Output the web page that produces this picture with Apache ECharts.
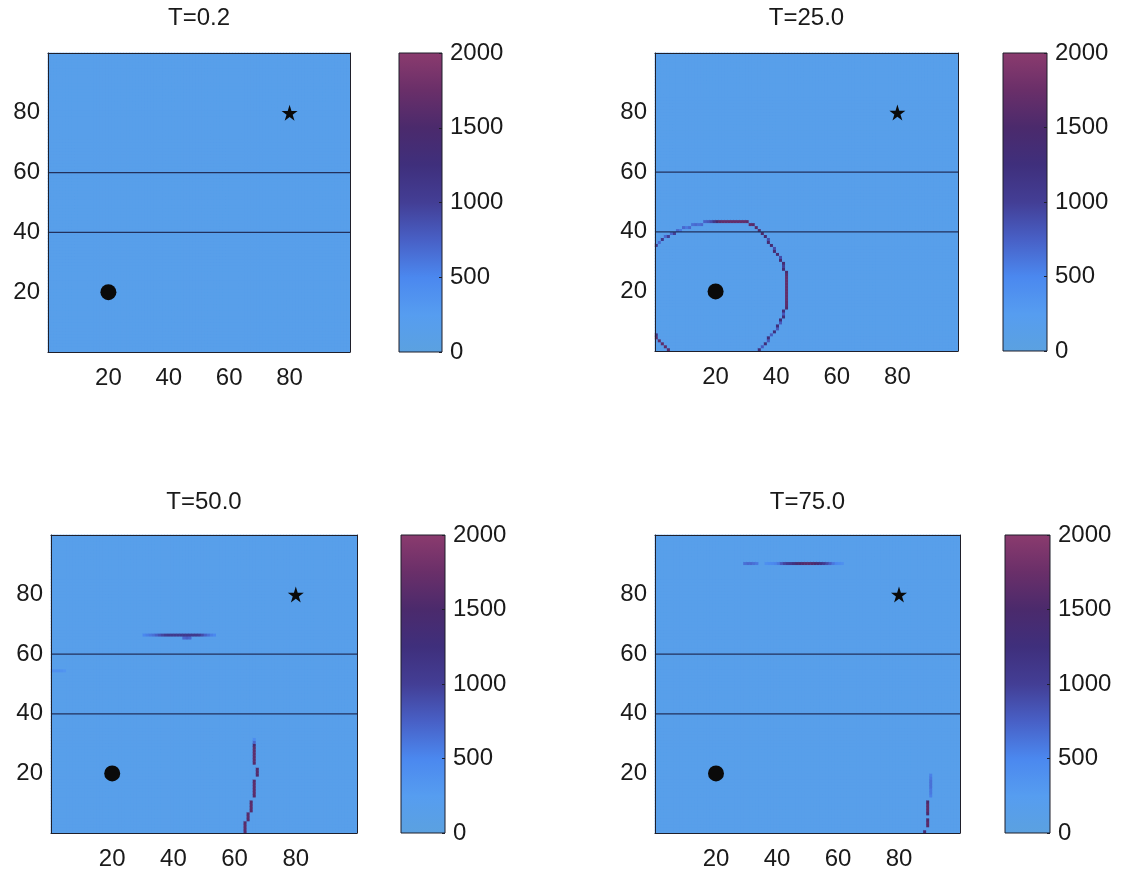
<!DOCTYPE html>
<html>
<head>
<meta charset="utf-8">
<title>Wavefield snapshots</title>
<script src="https://cdn.jsdelivr.net/npm/echarts@6/dist/echarts.min.js"></script>
<style>
  html, body { margin: 0; padding: 0; background: #ffffff; }
  #chart { width: 1125px; height: 876px; }
</style>
</head>
<body>
<div id="chart"></div>
<script>
// ---- data ---------------------------------------------------------------
const FIELD_SIZE = 100;          // cells per side of the model grid
const BACKGROUND_LEVEL = 150;    // amplitude of the quiet medium
const panelTitles = ['T=0.2', 'T=25.0', 'T=50.0', 'T=75.0'];
const colorLevels = [0, 250, 500, 750, 1000, 1250, 1500, 1750, 2000];
const colorRamp = ['#5ba1e0', '#569df0', '#4b88ef', '#4860c6', '#433e95', '#3f2f7c', '#4b2a6c', '#6a2f69', '#8b3b6e'];
const interfaceDepths = [40, 60];
const sourcePoint = [20, 20];
const receiverPoint = [80, 80];

// wavefront cells: [x cell, y cell, amplitude]
const frontT02 = [];

const frontT25 = [
  // lower-left corner
  [0, 5, 1200], [0, 4, 1650], [1, 3, 1650], [2, 2, 1650], [3, 1, 1650], [4, 0, 1600],
  // left edge, dotted
  [0, 35, 1100], [1, 36, 700], [2, 37, 1100], [3, 38, 700], [4, 38, 1000], [5, 39, 700], [6, 39, 1000],
  // upper-left, faint
  [7, 40, 700], [8, 40, 600], [9, 41, 700], [10, 41, 600], [11, 41, 700], [12, 42, 650], [13, 42, 700],
  [14, 42, 650], [15, 42, 700], [16, 43, 750], [17, 43, 800], [18, 43, 900], [19, 43, 1100],
  // top
  [20, 43, 1500], [21, 43, 1650], [22, 43, 1700], [23, 43, 1700], [24, 43, 1700], [25, 43, 1700],
  [26, 43, 1700], [27, 43, 1700], [28, 43, 1700], [29, 43, 1700], [30, 43, 1650],
  // upper-right bend
  [31, 42, 1650], [32, 42, 1600], [33, 41, 1600], [34, 40, 1550], [35, 39, 1500],
  // upper-right diagonal
  [36, 38, 1400], [37, 37, 900], [37, 36, 1400], [38, 35, 1400], [39, 34, 900], [39, 33, 1400],
  [40, 32, 1400], [41, 31, 900], [41, 30, 1400], [42, 29, 1400], [42, 28, 1000], [42, 27, 1400],
  // right side
  [43, 26, 1500], [43, 25, 1650], [43, 24, 1700], [43, 23, 1700], [43, 22, 1700], [43, 21, 1700],
  [43, 20, 1700], [43, 19, 1700], [43, 18, 1700], [43, 17, 1700], [43, 16, 1650], [43, 15, 1650], [43, 14, 1550],
  // lower-right, dotted
  [42, 13, 1300], [42, 12, 800], [42, 11, 1300], [41, 10, 1300], [41, 9, 800], [40, 8, 1300], [40, 7, 800],
  [39, 6, 1300], [38, 5, 800], [37, 4, 1300], [37, 3, 800], [36, 2, 1300], [35, 1, 800], [34, 0, 1300]
];

const frontT50 = [
  // refracted front above the upper interface
  [30, 66, 500], [31, 66, 550], [32, 66, 600], [33, 66, 650], [34, 66, 750], [35, 66, 850], [36, 66, 950],
  [37, 66, 1050], [38, 66, 1100], [39, 66, 1100], [40, 66, 1100], [41, 66, 1100], [42, 66, 1100],
  [43, 66, 1100], [44, 66, 1100], [45, 66, 1100], [46, 66, 1100], [47, 66, 1100], [48, 66, 1050],
  [49, 66, 900], [50, 66, 750], [51, 66, 650], [52, 66, 550], [53, 66, 500],
  [43, 65, 700], [44, 65, 750], [45, 65, 700],
  // weak energy in the middle layer
  [0, 54, 400], [1, 54, 400], [2, 54, 400], [3, 54, 380], [4, 54, 350],
  // direct front in the lower layer
  [66, 31, 450], [66, 30, 700], [66, 29, 1500], [66, 28, 1650], [66, 27, 1650], [66, 26, 1650],
  [66, 25, 1650], [66, 24, 1650], [66, 23, 1600], [67, 21, 1550], [67, 20, 1600], [67, 19, 1550],
  [66, 17, 1600], [66, 16, 1650], [66, 15, 1650], [66, 14, 1650], [66, 13, 1650], [66, 12, 1600],
  [65, 10, 1600], [65, 9, 1650], [65, 8, 1650], [65, 7, 1600], [64, 6, 1600], [64, 5, 1650], [64, 4, 1600],
  [63, 3, 1600], [63, 2, 1650], [63, 1, 1650], [63, 0, 1600]
];

const frontT75 = [
  // front in the upper layer
  [29, 90, 650], [30, 90, 700], [31, 90, 700], [32, 90, 650], [33, 90, 600],
  [36, 90, 420], [37, 90, 450], [38, 90, 480], [39, 90, 520], [40, 90, 600],
  [41, 90, 800], [42, 90, 950], [43, 90, 1050], [44, 90, 1100], [45, 90, 1200], [46, 90, 1400],
  [47, 90, 1500], [48, 90, 1550], [49, 90, 1600], [50, 90, 1600], [51, 90, 1550], [52, 90, 1500],
  [53, 90, 1400], [54, 90, 1200], [55, 90, 1050], [56, 90, 900], [57, 90, 750], [58, 90, 600],
  [59, 90, 500], [60, 90, 450], [61, 90, 400],
  // direct front leaving the lower right
  [90, 19, 550], [90, 18, 600], [90, 17, 650], [90, 16, 650], [90, 15, 650], [90, 14, 600],
  [90, 13, 600], [90, 12, 550], [89, 10, 1500], [89, 9, 1650], [89, 8, 1650], [89, 7, 1650],
  [89, 6, 1500], [89, 4, 1550], [89, 3, 1650], [89, 2, 1600], [88, 0, 1400]
];

const fronts = [frontT02, frontT25, frontT50, frontT75];

// ---- layout -------------------------------------------------------------
const FONT = '"Liberation Sans", Arial, Helvetica, sans-serif';
const FONT_SIZE = 24;
const TEXT_COLOR = '#1a1a1a';
const FRAME_COLOR = '#1f1f2a';

const panelLayout = [
  { plot: { left: 48, top: 53, width: 302, height: 299 }, bar: { left: 399, top: 53, width: 43, height: 299 }, titleY: 6 },
  { plot: { left: 655, top: 53, width: 303, height: 298 }, bar: { left: 1003, top: 53, width: 44, height: 298 }, titleY: 6 },
  { plot: { left: 51, top: 535, width: 306, height: 298 }, bar: { left: 401, top: 535, width: 44, height: 298 }, titleY: 490 },
  { plot: { left: 655, top: 535, width: 305, height: 298 }, bar: { left: 1005, top: 535, width: 45, height: 298 }, titleY: 490 }
];

// colour of a given amplitude on the ramp (used to back the cell grid so seams vanish)
function rampColor(value) {
  const max = colorLevels[colorLevels.length - 1];
  const t = Math.max(0, Math.min(1, value / max)) * (colorRamp.length - 1);
  const i = Math.min(colorRamp.length - 2, Math.floor(t));
  const f = t - i;
  const a = parseInt(colorRamp[i].slice(1), 16), b = parseInt(colorRamp[i + 1].slice(1), 16);
  const mix = s => Math.round(((a >> s) & 255) * (1 - f) + ((b >> s) & 255) * f);
  return 'rgb(' + mix(16) + ',' + mix(8) + ',' + mix(0) + ')';
}

// full grid of cells: quiet background with the wavefront cells laid over it
function buildField(front) {
  const lookup = new Map();
  front.forEach(([x, y, v]) => lookup.set(x * 1000 + y, v));
  const cells = [];
  for (let x = 0; x < FIELD_SIZE; x++) {
    for (let y = 0; y < FIELD_SIZE; y++) {
      const key = x * 1000 + y;
      cells.push([x, y, lookup.has(key) ? lookup.get(key) : BACKGROUND_LEVEL]);
    }
  }
  return cells;
}

const cellCategories = Array.from({ length: FIELD_SIZE }, (_, i) => String(i));
const barGradient = {
  type: 'linear', x: 0, y: 1, x2: 0, y2: 0,
  colorStops: colorLevels.map((v, i) => ({ offset: v / colorLevels[colorLevels.length - 1], color: colorRamp[i] }))
};

const grid = [], xAxis = [], yAxis = [], series = [], graphic = [], heatmapIndices = [];

const labelStyle = { fontSize: FONT_SIZE, color: TEXT_COLOR, fontFamily: FONT };
const frameLine = { show: true, onZero: false, lineStyle: { color: FRAME_COLOR, width: 1 } };

panelLayout.forEach((layout, p) => {
  const plotGrid = grid.length;
  grid.push(Object.assign({ containLabel: false, show: true, backgroundColor: rampColor(BACKGROUND_LEVEL), borderWidth: 0 }, layout.plot));
  const barGrid = grid.length;
  grid.push(Object.assign({
    containLabel: false, show: true, backgroundColor: barGradient,
    borderColor: FRAME_COLOR, borderWidth: 1
  }, layout.bar));

  // cell axes (categories) carry the top and right frame lines
  const catX = xAxis.length;
  xAxis.push({ type: 'category', gridIndex: plotGrid, data: cellCategories, position: 'top', z: 10,
    axisLine: frameLine, axisTick: { show: false }, axisLabel: { show: false }, splitLine: { show: false } });
  const valX = xAxis.length;
  xAxis.push({ type: 'value', gridIndex: plotGrid, min: 0, max: FIELD_SIZE, interval: 20, position: 'bottom', z: 10,
    axisLine: frameLine, axisTick: { show: false }, splitLine: { show: false },
    axisLabel: Object.assign({ margin: 14, showMinLabel: false, showMaxLabel: false }, labelStyle) });
  xAxis.push({ type: 'value', gridIndex: barGrid, min: 0, max: 1, show: false });

  const catY = yAxis.length;
  yAxis.push({ type: 'category', gridIndex: plotGrid, data: cellCategories, position: 'right', z: 10,
    axisLine: frameLine, axisTick: { show: false }, axisLabel: { show: false }, splitLine: { show: false } });
  const valY = yAxis.length;
  yAxis.push({ type: 'value', gridIndex: plotGrid, min: 0, max: FIELD_SIZE, interval: 20, position: 'left', z: 10,
    axisLine: frameLine, axisTick: { show: false }, splitLine: { show: false },
    axisLabel: Object.assign({ margin: 8, showMinLabel: false, showMaxLabel: false }, labelStyle) });
  // colour-bar scale on the right edge of the bar
  yAxis.push({ type: 'value', gridIndex: barGrid, min: 0, max: colorLevels[colorLevels.length - 1], interval: 500,
    position: 'right', z: 10, axisLine: { show: false, onZero: false }, splitLine: { show: false },
    axisTick: { show: true, inside: true, length: 3, lineStyle: { color: FRAME_COLOR } },
    axisLabel: Object.assign({ margin: 8, formatter: v => String(v) }, labelStyle) });

  heatmapIndices.push(series.length);
  series.push({
    type: 'heatmap', xAxisIndex: catX, yAxisIndex: catY, data: buildField(fronts[p]),
    progressive: 0, silent: true, emphasis: { disabled: true }, z: 2
  });

  interfaceDepths.forEach(depth => {
    series.push({
      type: 'line', xAxisIndex: valX, yAxisIndex: valY, data: [[0, depth], [FIELD_SIZE, depth]],
      symbol: 'none', silent: true, z: 5, lineStyle: { color: '#22305c', width: 1.2 }
    });
  });

  series.push({
    type: 'scatter', xAxisIndex: valX, yAxisIndex: valY, data: [sourcePoint],
    symbol: 'circle', symbolSize: 16, silent: true, z: 6, itemStyle: { color: '#0a0a0a', opacity: 1 }
  });
  series.push({
    type: 'scatter', xAxisIndex: valX, yAxisIndex: valY, data: [receiverPoint],
    symbol: 'path://M50,0 L61.8,36.2 L100,36.2 L69.1,58.6 L80.9,95 L50,72.6 L19.1,95 L30.9,58.6 L0,36.2 L38.2,36.2 Z',
    symbolSize: 16, silent: true, z: 6, itemStyle: { color: '#0a0a0a', opacity: 1 }
  });

  graphic.push({
    type: 'text', x: layout.plot.left + layout.plot.width / 2, y: layout.titleY, silent: true,
    style: { text: panelTitles[p], fill: TEXT_COLOR, font: FONT_SIZE + 'px ' + FONT, align: 'center', verticalAlign: 'top' }
  });
});

const chart = echarts.init(document.getElementById('chart'), null, { renderer: 'canvas' });
chart.setOption({
  backgroundColor: '#ffffff',
  animation: false,
  grid, xAxis, yAxis, series, graphic,
  visualMap: {
    type: 'continuous', show: false, seriesIndex: heatmapIndices,
    min: colorLevels[0], max: colorLevels[colorLevels.length - 1],
    inRange: { color: colorRamp }
  }
});
</script>
</body>
</html>
